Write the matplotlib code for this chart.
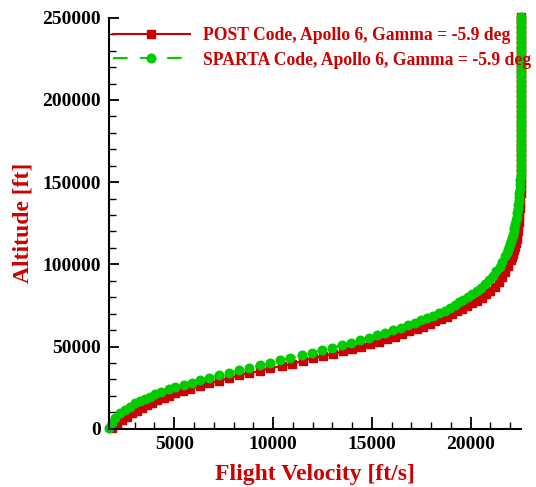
import numpy as np
import matplotlib.pyplot as plt
from matplotlib.ticker import MultipleLocator

# Trajetoria Apollo 6 - POST vs SPARTA

post_vel = [1840, 2100, 2350, 2600, 2860, 3110, 3360, 3620, 3870, 4150,
            4460, 4710, 5050, 5440, 5810, 6280, 6740, 7250, 7760, 8260,
            8760, 9320, 9860, 10460, 10960, 11520, 12030, 12530, 13040, 13550,
            14000, 14470, 14930, 15350, 15770, 16150, 16540, 16900, 17260, 17600,
            17920, 18220, 18510, 18780, 19050, 19290, 19550, 19800, 20050, 20300,
            20550, 20780, 21000, 21220, 21420, 21600, 21760, 21900, 22030, 22085,
            22140, 22190, 22240, 22280, 22320, 22350, 22380, 22405, 22430, 22450,
            22470, 22490, 22505, 22518, 22530, 22540, 22548, 22553, 22556, 22558,
            22559, 22560, 22561, 22561, 22562, 22562, 22563, 22563, 22563, 22564,
            22564, 22564, 22565, 22565, 22565, 22565, 22566, 22566, 22566, 22566,
            22567, 22567, 22567, 22567, 22568, 22568, 22568, 22569, 22569, 22570,
            22570]
post_alt = [200, 2900, 5300, 7300, 9400, 11000, 12600, 14200, 15800, 17500,
            18900, 19900, 21500, 22900, 24300, 26000, 27600, 29000, 30700, 32500,
            33700, 35100, 36700, 38300, 39400, 41400, 42800, 44200, 45400, 47100,
            48500, 49900, 51500, 52900, 54600, 56000, 57600, 59200, 60600, 62000,
            63700, 65300, 66700, 68100, 69800, 71400, 72900, 74500, 76200, 77900,
            79800, 81800, 84000, 86500, 89200, 92000, 95200, 98700, 102500, 104500,
            106500, 108600, 110800, 113100, 115500, 118000, 120500, 123200, 126000, 128700,
            131500, 134500, 137500, 140500, 143500, 146500, 149500, 152500, 155500, 158500,
            161500, 164500, 167500, 170500, 173500, 176500, 179500, 182500, 185500, 188500,
            191500, 194500, 197500, 200500, 203500, 206500, 209500, 212500, 215500, 218500,
            221500, 224500, 227500, 230500, 233500, 236500, 239500, 242500, 245500, 248500,
            250500]

sparta_vel = [1700, 1840, 2010, 2260, 2520, 2770, 3020, 3280, 3530, 3780,
              4040, 4340, 4710, 5050, 5470, 5900, 6320, 6740, 7250, 7760,
              8260, 8760, 9360, 9860, 10370, 10880, 11470, 11980, 12480, 12990,
              13500, 13950, 14390, 14850, 15270, 15690, 16080, 16450, 16820, 17160,
              17500, 17800, 18110, 18390, 18680, 18950, 19190, 19400, 19630, 19860,
              20080, 20300, 20520, 20730, 20930, 21120, 21300, 21460, 21610, 21750,
              21815, 21870, 21925, 21980, 22030, 22080, 22125, 22170, 22210, 22250,
              22285, 22320, 22350, 22380, 22405, 22430, 22450, 22470, 22485, 22500,
              22515, 22525, 22535, 22542, 22548, 22552, 22555, 22557, 22558, 22559,
              22560, 22560, 22561, 22561, 22562, 22562, 22562, 22563, 22563, 22563,
              22564, 22564, 22564, 22564, 22565, 22565, 22565, 22565, 22566, 22566,
              22566, 22566, 22566, 22566]
sparta_alt = [300, 3200, 6300, 9400, 11400, 13400, 15500, 17000, 18100, 19500,
              20900, 22300, 24000, 25200, 26600, 28000, 29600, 31000, 32500, 34100,
              35500, 36900, 38600, 40100, 41600, 43000, 44800, 46200, 47900, 49300,
              50900, 52300, 54000, 55400, 56800, 58400, 60000, 61400, 62900, 64500,
              65900, 67300, 68700, 70400, 71800, 73400, 75100, 76900, 78500, 80100,
              81800, 83600, 85700, 87900, 90300, 92900, 95700, 98600, 101700, 105000,
              106800, 108500, 110300, 112200, 114100, 116100, 118100, 120200, 122300, 124500,
              126700, 129000, 131300, 133700, 136100, 138600, 141100, 143600, 146100, 148700,
              151500, 154500, 157500, 160500, 163500, 166500, 169500, 172500, 175500, 178500,
              181500, 184500, 187500, 190500, 193500, 196500, 199500, 202500, 205500, 208500,
              211500, 214500, 217500, 220500, 223500, 226500, 229500, 232500, 235500, 238500,
              241500, 244500, 247500, 250500]

VERMELHO = '#cc0000'
VERDE = '#00cc00'

plt.rcParams['font.family'] = 'Liberation Serif'
plt.rcParams['font.weight'] = 'bold'

fig = plt.figure(figsize=(5.36, 4.87), dpi=100)
ax = fig.add_axes([0.2034, 0.1197, 0.7687, 0.8438])

ax.plot(post_vel, post_alt, '-', color=VERMELHO, lw=1.5, marker='s', ms=5.8,
        mec=VERMELHO, mfc=VERMELHO, clip_on=False,
        label='POST Code, Apollo 6, Gamma = -5.9 deg')
ax.plot(sparta_vel, sparta_alt, color=VERDE, lw=1.5, ls=(0, (7, 6)), marker='o', ms=6.2,
        mec=VERDE, mfc=VERDE, clip_on=False,
        label='SPARTA Code, Apollo 6, Gamma = -5.9 deg')

ax.set_xlim(1700, 22550)
ax.set_ylim(0, 250000)

ax.xaxis.set_major_locator(MultipleLocator(5000))
ax.xaxis.set_minor_locator(MultipleLocator(1000))
ax.yaxis.set_major_locator(MultipleLocator(50000))
ax.yaxis.set_minor_locator(MultipleLocator(10000))

# Estilo Tecplot: so eixos esquerdo e inferior, ticks para dentro
for lado in ['top', 'right']:
    ax.spines[lado].set_visible(False)
for lado in ['left', 'bottom']:
    ax.spines[lado].set_linewidth(1.5)
ax.tick_params(axis='x', which='major', direction='in', length=8.5, width=1.3,
               labelsize=14, pad=5)
ax.tick_params(axis='x', which='minor', direction='in', length=5, width=1.0)
ax.tick_params(axis='y', which='major', direction='in', length=7.5, width=1.3,
               labelsize=14, pad=6)
ax.tick_params(axis='y', which='minor', direction='in', length=5, width=1.0)
for rotulo in ax.get_xticklabels() + ax.get_yticklabels():
    rotulo.set_fontweight('bold')

ax.set_xlabel('Flight Velocity [ft/s]', color=VERMELHO, fontsize=17,
              fontweight='bold', labelpad=8)
ax.set_ylabel('Altitude [ft]', color=VERMELHO, fontsize=17,
              fontweight='bold', labelpad=6)

ax.legend(loc='upper left', bbox_to_anchor=(0.0, 0.985), frameon=False,
          numpoints=1, handlelength=4.4, handletextpad=0.75,
          labelspacing=0.4, borderpad=0, borderaxespad=0.2, labelcolor=VERMELHO,
          prop={'weight': 'bold', 'size': 12.7})

fig.savefig('out.png', dpi=100)
